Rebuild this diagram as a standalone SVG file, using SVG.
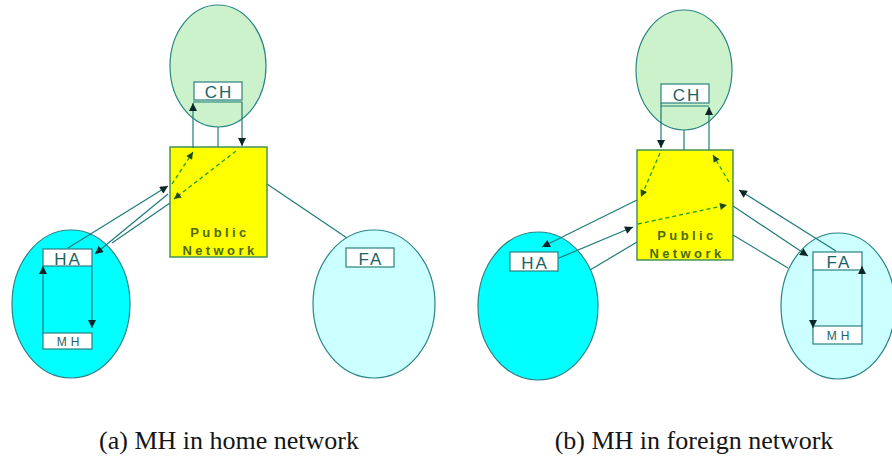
<svg xmlns="http://www.w3.org/2000/svg" width="892" height="464" viewBox="0 0 892 464">
  <defs>
    <marker id="ah" viewBox="0 0 10 10" refX="10" refY="5" markerWidth="9" markerHeight="8" markerUnits="userSpaceOnUse" orient="auto">
      <path d="M0,0 L10,5 L0,10 z" fill="#0b2626"/>
    </marker>
    <marker id="ahg" viewBox="0 0 10 10" refX="10" refY="5" markerWidth="8" markerHeight="7" markerUnits="userSpaceOnUse" orient="auto">
      <path d="M0,0 L10,5 L0,10 z" fill="#1d4a10"/>
    </marker>
  </defs>
  <style>
    .cloud { stroke: #2a8585; stroke-width: 1.2; }
    .ch { fill: #ccf2cc; }
    .home { fill: #00ffff; }
    .foreign { fill: #ccffff; }
    .net { fill: #ffff00; stroke: #3a8a5a; stroke-width: 1.4; }
    .box { fill: #ffffff; stroke: #2a7f7f; stroke-width: 1.2; }
    .lbl { font-family: "Liberation Sans", Arial, sans-serif; font-size: 17px; fill: #1a6464; text-anchor: middle; letter-spacing: 2px; }
    .lbl-s { font-family: "Liberation Sans", Arial, sans-serif; font-size: 12px; fill: #1a6464; text-anchor: middle; letter-spacing: 4px; }
    .netlbl { font-family: "Liberation Sans", Arial, sans-serif; font-size: 13px; font-weight: bold; fill: #4d6b00; text-anchor: middle; letter-spacing: 3.4px; }
    .link { fill: none; stroke: #1f7a7a; stroke-width: 1.2; }
    .arr { marker-end: url(#ah); }
    .tun { fill: none; stroke: #1e9e1e; stroke-width: 1.3; stroke-dasharray: 4 3; marker-end: url(#ahg); }
    .cap { font-family: "Liberation Serif", "Times New Roman", serif; font-size: 26px; fill: #151515; text-anchor: middle; }
  </style>

  <!-- ===== (a) mobile host at home ===== -->
  <g id="a-ch-net">
    <ellipse class="cloud ch" cx="218" cy="66" rx="48" ry="61"/>
  </g>
  <g id="a-home-net">
    <ellipse class="cloud home" cx="71" cy="304" rx="59" ry="74"/>
  </g>
  <g id="a-foreign-net">
    <ellipse class="cloud foreign" cx="374" cy="304" rx="61" ry="74"/>
  </g>
  <g id="a-public">
    <rect class="net" x="170" y="147" width="97" height="110"/>
    <text class="netlbl" x="220" y="237">Public</text>
    <text class="netlbl" x="220" y="255">Network</text>
  </g>
  <g id="a-ch">
    <rect class="box" x="194" y="82" width="48" height="18"/>
    <text class="lbl" x="219" y="98">CH</text>
  </g>
  <g id="a-ha">
    <rect class="box" x="43" y="249" width="49" height="17"/>
    <text class="lbl" x="68" y="265">HA</text>
  </g>
  <g id="a-mh">
    <rect class="box" x="43" y="333" width="49" height="16"/>
    <text class="lbl-s" x="70" y="346">MH</text>
  </g>
  <g id="a-fa">
    <rect class="box" x="346" y="248" width="48" height="19"/>
    <text class="lbl" x="371" y="265">FA</text>
  </g>

  <g id="a-connectors">
    <path class="link" d="M193,102 L242,102"/>
    <path class="link arr" d="M193,148 L193,103"/>
    <path class="link arr" d="M242,102 L242,146"/>
    <path class="link" d="M218,127 L218,147"/>
    <path class="tun" d="M172,184 L193,152"/>
    <path class="tun" d="M236,151 L174,199"/>
    <path class="link arr" d="M68,248 L168,186"/>
    <path class="link arr" d="M168,194 L95,254"/>
    <path class="link" d="M170,203 L112,243"/>
    <path class="link arr" d="M43,333 L43,266"/>
    <path class="link arr" d="M92,266 L92,328"/>
    <path class="link" d="M267,184 L347,238"/>
  </g>

  <!-- ===== (b) mobile host away ===== -->
  <g id="b-ch-net">
    <ellipse class="cloud ch" cx="684" cy="70" rx="48" ry="60"/>
  </g>
  <g id="b-home-net">
    <ellipse class="cloud home" cx="538" cy="306" rx="60" ry="74"/>
  </g>
  <g id="b-foreign-net">
    <ellipse class="cloud foreign" cx="838" cy="306" rx="57" ry="73"/>
  </g>
  <g id="b-public">
    <rect class="net" x="637" y="150" width="96" height="110"/>
    <text class="netlbl" x="687" y="240">Public</text>
    <text class="netlbl" x="687" y="258">Network</text>
  </g>
  <g id="b-ch">
    <rect class="box" x="661" y="84" width="48" height="19"/>
    <text class="lbl" x="687" y="101">CH</text>
  </g>
  <g id="b-ha">
    <rect class="box" x="510" y="252" width="48" height="19"/>
    <text class="lbl" x="535" y="269">HA</text>
  </g>
  <g id="b-fa">
    <rect class="box" x="813" y="252" width="49" height="18"/>
    <text class="lbl" x="839" y="268">FA</text>
  </g>
  <g id="b-mh">
    <rect class="box" x="813" y="326" width="49" height="18"/>
    <text class="lbl-s" x="840" y="340">MH</text>
  </g>

  <g id="b-connectors">
    <path class="link" d="M661,106 L709,106"/>
    <path class="link arr" d="M661,103 L661,148"/>
    <path class="link arr" d="M709,150 L709,107"/>
    <path class="link" d="M684,130 L684,150"/>
    <path class="tun" d="M660,153 L641,197"/>
    <path class="tun" d="M638,224 L727,205"/>
    <path class="tun" d="M729,182 L713,155"/>
    <path class="link arr" d="M637,200 L542,247"/>
    <path class="link arr" d="M559,258 L633,227"/>
    <path class="link" d="M637,242 L590,270"/>
    <path class="link arr" d="M836,251 L739,190"/>
    <path class="link arr" d="M733,206 L808,256"/>
    <path class="link" d="M733,235 L788,268"/>
    <path class="link arr" d="M813,270 L813,328"/>
    <path class="link arr" d="M862,326 L862,266"/>
  </g>

  <text class="cap" x="229" y="449">(a) MH in home network</text>
  <text class="cap" x="694" y="449">(b) MH in foreign network</text>
</svg>
